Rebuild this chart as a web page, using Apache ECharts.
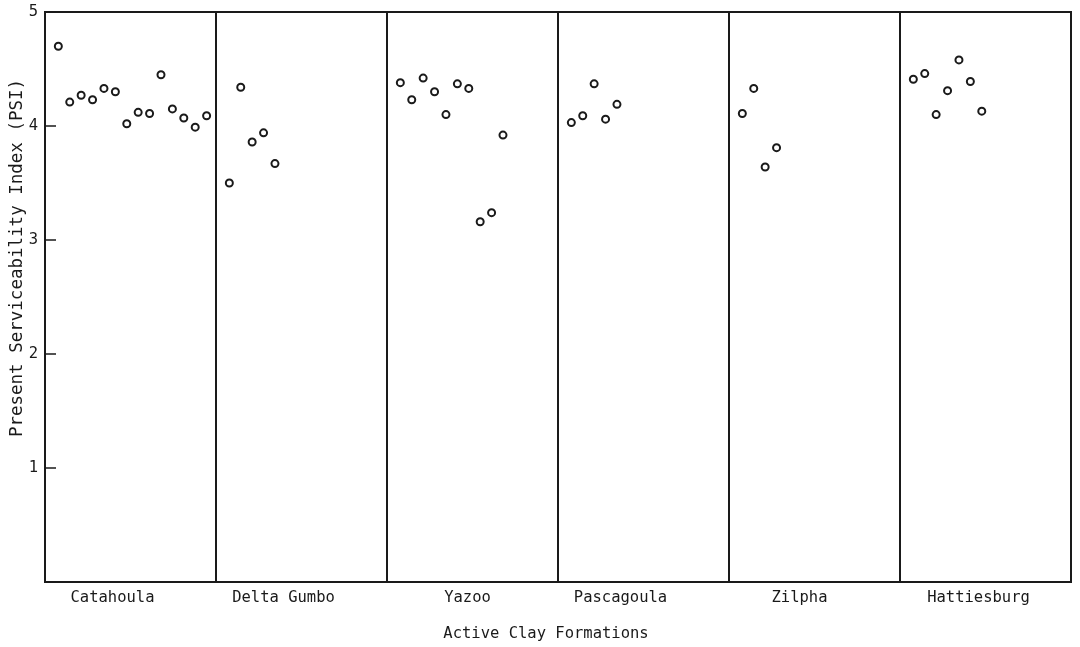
<!DOCTYPE html>
<html>
<head>
<meta charset="utf-8">
<title>PSI by active clay formation</title>
<style>
    html, body {
        margin: 0;
        padding: 0;
        background: #fff;
    }

    #chart {
        width: 1080px;
        height: 647px;
    }
</style>
<script src="https://cdn.jsdelivr.net/npm/echarts@6/dist/echarts.min.js"></script>
</head>
<body>
<div id="chart"></div>
<script type="text/javascript">
    // formations along the x axis
    var formations = ['Catahoula', 'Delta Gumbo', 'Yazoo', 'Pascagoula', 'Zilpha', 'Hattiesburg'];

    // PSI readings per formation, in left-to-right order inside each panel
    var catahoula = [4.70, 4.21, 4.27, 4.23, 4.33, 4.30, 4.02, 4.12, 4.11, 4.45, 4.15, 4.07, 3.99, 4.09];
    var deltaGumbo = [3.50, 4.34, 3.86, 3.94, 3.67];
    var yazoo = [4.38, 4.23, 4.42, 4.30, 4.10, 4.37, 4.33, 3.16, 3.24, 3.92];
    var pascagoula = [4.03, 4.09, 4.37, 4.06, 4.19];
    var zilpha = [4.11, 4.33, 3.64, 3.81];
    var hattiesburg = [4.41, 4.46, 4.10, 4.31, 4.58, 4.39, 4.13];

    // y tick labels (0 is left blank)
    var yTickLabels = ['', '1', '2', '3', '4', '5'];

    var groups = [catahoula, deltaGumbo, yazoo, pascagoula, zilpha, hattiesburg];

    // the typed labels sit a little left of each panel centre (px)
    var labelShift = [18, 18, 5, 23, 15, 7];

    // each panel is one unit wide, samples are spread evenly from the left
    var firstOffset = 0.078;
    var step = 0.0667;
    var points = [];
    groups.forEach(function (vals, g) {
        vals.forEach(function (v, i) {
            points.push([g + firstOffset + i * step, v]);
        });
    });

    var mono = 'DejaVu Sans Mono';
    var ink = '#1a1a1a';

    var richLabels = {};
    labelShift.forEach(function (s, i) {
        richLabels['s' + i] = {
            fontFamily: mono,
            fontSize: 15.5,
            color: ink,
            padding: [0, 2 * s, 0, 0]
        };
    });

    var chart = echarts.init(document.getElementById('chart'));
    var option = {
        animation: false,
        backgroundColor: '#fff',
        grid: {
            left: 45,
            right: 9,
            top: 12,
            bottom: 63,
            show: true,
            borderColor: ink,
            borderWidth: 2
        },
        xAxis: [
            {
                type: 'value',
                min: 0,
                max: formations.length,
                interval: 1,
                position: 'bottom',
                axisLine: { show: true, lineStyle: { color: ink, width: 2 } },
                axisTick: { show: false },
                axisLabel: { show: false },
                splitLine: { show: true, lineStyle: { color: ink, width: 2 } }
            },
            {
                type: 'category',
                data: formations,
                position: 'bottom',
                boundaryGap: true,
                axisLine: { show: false },
                axisTick: { show: false },
                splitLine: { show: false },
                axisLabel: {
                    margin: 8,
                    formatter: function (v, i) {
                        return '{s' + i + '|' + v + '}';
                    },
                    rich: richLabels
                },
                name: 'Active Clay Formations',
                nameLocation: 'middle',
                nameGap: 44,
                nameTextStyle: {
                    fontFamily: mono,
                    fontSize: 15.5,
                    color: ink,
                    padding: [0, 24, 0, 0]
                }
            }
        ],
        yAxis: {
            type: 'value',
            min: 0,
            max: 5,
            interval: 1,
            axisLine: { show: true, lineStyle: { color: ink, width: 2 } },
            axisTick: { show: true, inside: true, length: 11, lineStyle: { color: ink, width: 1.5 } },
            splitLine: { show: false },
            axisLabel: {
                fontFamily: mono,
                fontSize: 15.5,
                color: ink,
                margin: 7,
                formatter: function (v) { return yTickLabels[v]; }
            }
        },
        graphic: [
            {
                type: 'text',
                x: 17,
                y: 258,
                rotation: Math.PI / 2,
                style: {
                    text: 'Present Serviceability Index (PSI)',
                    font: '17.5px "DejaVu Sans Mono"',
                    fill: ink,
                    align: 'center',
                    verticalAlign: 'middle'
                }
            }
        ],
        series: [
            {
                type: 'scatter',
                xAxisIndex: 0,
                data: points,
                symbol: 'circle',
                symbolSize: 7,
                itemStyle: { color: '#fff', borderColor: ink, borderWidth: 2, opacity: 1 }
            }
        ]
    };
    chart.setOption(option);
</script>
</body>
</html>
